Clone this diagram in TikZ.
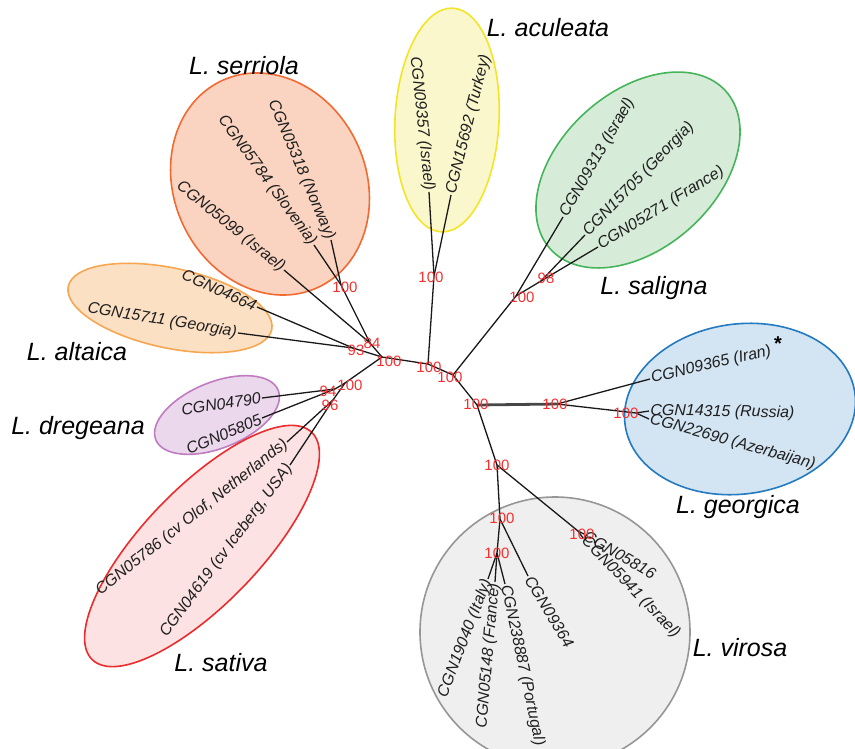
\documentclass[tikz,border=0pt]{standalone}
\usepackage{fontspec}
\setmainfont{Liberation Sans}
\definecolor{serB}{RGB}{242,106,50}
\definecolor{serF}{RGB}{250,212,192}
\definecolor{acuB}{RGB}{244,228,40}
\definecolor{acuF}{RGB}{250,247,204}
\definecolor{salB}{RGB}{70,180,90}
\definecolor{salF}{RGB}{214,236,217}
\definecolor{geoB}{RGB}{35,122,192}
\definecolor{geoF}{RGB}{211,228,242}
\definecolor{virB}{RGB}{150,150,150}
\definecolor{virF}{RGB}{238,239,238}
\definecolor{altB}{RGB}{247,166,82}
\definecolor{altF}{RGB}{252,224,196}
\definecolor{dreB}{RGB}{192,124,192}
\definecolor{dreF}{RGB}{236,216,236}
\definecolor{satB}{RGB}{236,44,44}
\definecolor{satF}{RGB}{252,226,226}
\definecolor{bootred}{RGB}{245,48,48}
\begin{document}
\begin{tikzpicture}[x=1pt,y=-1pt,
  edge/.style={line width=1.3pt, black!90},
  thickedge/.style={line width=2.8pt, black!72},
  leaf/.style={font=\fontsize{16}{18}\selectfont\itshape, inner sep=1.2pt, text=black!88},
  boot/.style={font=\fontsize{15}{17}\selectfont, text=bootred, inner sep=0pt},
  species/.style={font=\fontsize{25}{28}\selectfont\itshape, inner sep=0pt},
  clade/.style={line width=1.6pt}]
\useasboundingbox (0,0) rectangle (855,748);
% clade ellipses
\draw[clade, draw=virB, fill=virF] (555,632) ellipse [x radius=135pt, y radius=135pt];
\draw[clade, draw=serB, fill=serF, rotate around={25:(270,184)}] (270,184) ellipse [x radius=96pt, y radius=114pt];
\draw[clade, draw=acuB, fill=acuF, rotate around={-3:(447,120)}] (447,120) ellipse [x radius=52pt, y radius=112pt];
\draw[clade, draw=salB, fill=salF, rotate around={42:(638,170)}] (638,170) ellipse [x radius=118pt, y radius=78pt];
\draw[clade, draw=geoB, fill=geoF, rotate around={8:(740,409)}] (740,409) ellipse [x radius=116pt, y radius=85pt];
\draw[clade, draw=altB, fill=altF, rotate around={-12:(170,308)}] (170,308) ellipse [x radius=104pt, y radius=40pt];
\draw[clade, draw=dreB, fill=dreF, rotate around={22:(217,415)}] (217,415) ellipse [x radius=66pt, y radius=33pt];
\draw[clade, draw=satB, fill=satF, rotate around={46:(202,546)}] (202,546) ellipse [x radius=158pt, y radius=58pt];
% internal nodes
\coordinate (S1) at (341,285);
\coordinate (S2) at (370,343);
\coordinate (A) at (353,348);
\coordinate (C1) at (382,357);
\coordinate (D0) at (345,383);
\coordinate (D1) at (335,389);
\coordinate (Sv) at (333,400);
\coordinate (C2) at (428,364);
\coordinate (Ac) at (434,276);
\coordinate (C3) at (453,375);
\coordinate (Sa2) at (516,296);
\coordinate (Sa1) at (541,281);
\coordinate (G) at (477,405);
\coordinate (G2) at (557,404);
\coordinate (G3) at (636,413);
\coordinate (V1) at (497,465);
\coordinate (V2) at (500,519);
\coordinate (V3) at (497,553);
\coordinate (V4) at (578,531);
% leaf ends
\coordinate (lNor) at (331,240);
\coordinate (lSlo) at (314,245);
\coordinate (lSIs) at (284,270);
\coordinate (lAc1) at (429,192);
\coordinate (lAc2) at (451,195);
\coordinate (lSg1) at (563,217);
\coordinate (lSg2) at (585,235);
\coordinate (lSg3) at (598,247);
\coordinate (lGe1) at (650,379);
\coordinate (lGe2) at (649,411);
\coordinate (lGe3) at (649,419);
\coordinate (lV1) at (488,579);
\coordinate (lV2) at (495,582);
\coordinate (lV3) at (505,584);
\coordinate (lV4) at (528,576);
\coordinate (lV5) at (584,534);
\coordinate (lV6) at (583,538);
\coordinate (lAl1) at (257,307);
\coordinate (lAl2) at (238,333);
\coordinate (lDr1) at (262,398);
\coordinate (lDr2) at (262,418);
\coordinate (lSa1) at (287,442);
\coordinate (lSa2) at (290,465);
% edges
\draw[edge] (lNor) -- (S1);
\draw[edge] (lSlo) -- (S1);
\draw[edge] (S1) -- (S2);
\draw[edge] (lSIs) -- (S2);
\draw[edge] (S2) -- (C1);
\draw[edge] (lAl1) -- (A);
\draw[edge] (lAl2) -- (A);
\draw[edge] (A) -- (C1);
\draw[edge] (C1) -- (D0);
\draw[edge] (D0) -- (D1);
\draw[edge] (lDr1) -- (D1);
\draw[edge] (lDr2) -- (D1);
\draw[edge] (D0) -- (Sv);
\draw[edge] (lSa1) -- (Sv);
\draw[edge] (lSa2) -- (Sv);
\draw[edge] (C1) -- (C2);
\draw[edge] (C2) -- (Ac);
\draw[edge] (lAc1) -- (Ac);
\draw[edge] (lAc2) -- (Ac);
\draw[edge] (C2) -- (C3);
\draw[edge] (C3) -- (Sa2);
\draw[edge] (Sa2) -- (lSg1);
\draw[edge] (Sa2) -- (Sa1);
\draw[edge] (Sa1) -- (lSg2);
\draw[edge] (Sa1) -- (lSg3);
\draw[edge] (C3) -- (G);
\draw[thickedge] (G) -- (G2);
\draw[edge] (G2) -- (lGe1);
\draw[edge] (G2) -- (G3);
\draw[edge] (G3) -- (lGe2);
\draw[edge] (G3) -- (lGe3);
\draw[edge] (G) -- (V1);
\draw[edge] (V1) -- (V2);
\draw[edge] (V1) -- (V4);
\draw[edge] (V4) -- (lV5);
\draw[edge] (V4) -- (lV6);
\draw[edge] (V2) -- (lV4);
\draw[edge] (V2) -- (V3);
\draw[edge] (V3) -- (lV1);
\draw[edge] (V3) -- (lV2);
\draw[edge] (V3) -- (lV3);
% leaf labels
\node[leaf, anchor=east, rotate=-67] (tNor) at (lNor) {CGN05318 (Norway)};
\node[leaf, anchor=east, rotate=-54] (tSlo) at (lSlo) {CGN05784 (Slovenia)};
\node[leaf, anchor=east, rotate=-39] (tSIs) at (lSIs) {CGN05099 (Israel)};
\node[leaf, anchor=east, rotate=-84] (tAc1) at (lAc1) {CGN09357 (Israel)};
\node[leaf, anchor=west, rotate=76] (tAc2) at (lAc2) {CGN15692 (Turkey)};
\node[leaf, anchor=west, rotate=60] (tSg1) at (lSg1) {CGN09313 (Israel)};
\node[leaf, anchor=west, rotate=46] (tSg2) at (lSg2) {CGN15705 (Georgia)};
\node[leaf, anchor=west, rotate=31.5] (tSg3) at (lSg3) {CGN05271 (France)};
\node[leaf, anchor=west, rotate=13] (tGe1) at (lGe1) {CGN09365 (Iran)};
\node[leaf, anchor=west, rotate=-1] (tGe2) at (lGe2) {CGN14315 (Russia)};
\node[leaf, anchor=west, rotate=-15.5] (tGe3) at (lGe3) {CGN22690 (Azerbaijan)};
\node[font=\fontsize{20}{22}\selectfont\bfseries, inner sep=0pt] (ast) at (778,344) {*};
\node[leaf, anchor=east, rotate=69] (tV1) at (lV1) {CGN19040 (Italy)};
\node[leaf, anchor=east, rotate=85] (tV2) at (lV2) {CGN05148 (France)};
\node[leaf, anchor=west, rotate=-78] (tV3) at (lV3) {CGN238887 (Portugal)};
\node[leaf, anchor=west, rotate=-59] (tV4) at (lV4) {CGN09364};
\node[leaf, anchor=west, rotate=-30] (tV5) at (lV5) {CGN05816};
\node[leaf, anchor=west, rotate=-46] (tV6) at (lV6) {CGN05941 (Israel)};
\node[leaf, anchor=east, rotate=-24.4] (tAl1) at (lAl1) {CGN04664};
\node[leaf, anchor=east, rotate=-9.2] (tAl2) at (lAl2) {CGN15711 (Georgia)};
\node[leaf, anchor=east, rotate=8.5] (tDr1) at (lDr1) {CGN04790};
\node[leaf, anchor=east, rotate=23] (tDr2) at (lDr2) {CGN05805};
\node[leaf, anchor=east, rotate=38.5] (tSa1) at (lSa1) {CGN05786 (cv Olof, Netherlands)};
\node[leaf, anchor=east, rotate=53.4] (tSa2) at (lSa2) {CGN04619 (cv Iceberg, USA)};
% bootstrap values
\node[boot] (bS1) at (345,287) {100};
\node[boot] (bS2) at (372,343) {84};
\node[boot] (bA) at (356,350) {93};
\node[boot] (bC1) at (389,361) {100};
\node[boot] (bC2) at (429,367) {100};
\node[boot] (bC3) at (450,377) {100};
\node[boot] (bD0) at (350,385) {100};
\node[boot] (bD1) at (328,391) {94};
\node[boot] (bSv) at (330,405) {96};
\node[boot] (bAc) at (431,277) {100};
\node[boot] (bSa2) at (522,297) {100};
\node[boot] (bSa1) at (546,278) {98};
\node[boot] (bG) at (476,404) {100};
\node[boot] (bG2) at (555,404) {100};
\node[boot] (bG3) at (626,413) {100};
\node[boot] (bV1) at (497,465) {100};
\node[boot] (bV2) at (502,518) {100};
\node[boot] (bV3) at (497,553) {100};
\node[boot] (bV4) at (582,534) {100};
% species names
\node[species] (nSer) at (244,66) {L. serriola};
\node[species] (nAcu) at (548,28) {L. aculeata};
\node[species] (nSal) at (654,288) {L. saligna};
\node[species] (nGeo) at (738,507) {L. georgica};
\node[species] (nVir) at (740,648) {L. virosa};
\node[species] (nSat) at (221,663) {L. sativa};
\node[species] (nAlt) at (77,352) {L. altaica};
\node[species] (nDre) at (78,428) {L. dregeana};
\end{tikzpicture}
\end{document}
